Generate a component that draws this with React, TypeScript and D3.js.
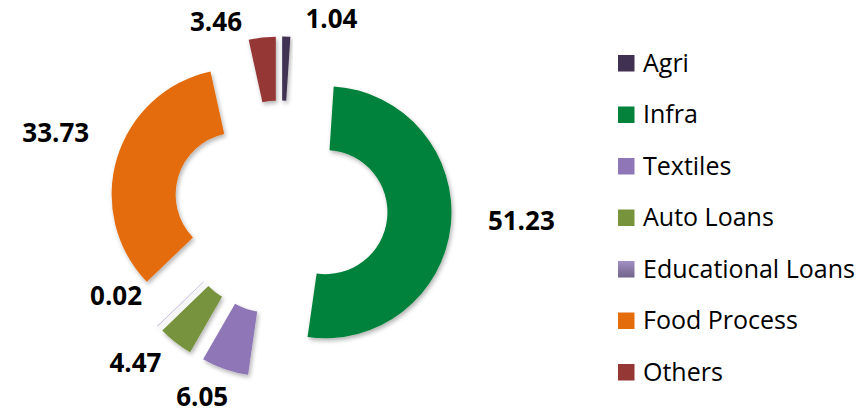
import React from "react";
import * as d3 from "d3";

const categories = ["Agri", "Infra", "Textiles", "Auto Loans", "Educational Loans", "Food Process", "Others"];
const values = [1.04, 51.23, 6.05, 4.47, 0.02, 33.73, 3.46];
const colors = ["#403152", "#04823c", "#8f77b7", "#77933c", "url(#eduGrad)", "#e46c0a", "#953735"];

// layout (not data)
const W = 862;
const H = 415;
const CX = 280.7;
const CY = 207.5;
const R_OUT = 126;
const R_IN = 62;
const EXPLODE = 45;
const labelAngleShift = [13.2, -2.8, 3.4, 5, 15.6, 1.5, -13];
const labelRadius = [195, 241, 205.5, 213, 187, 237, 196.5];

export default function App() {
  const pie = d3
    .pie<number>()
    .sort(null)
    .value((d) => d)
    .startAngle(0)
    .endAngle(2 * Math.PI);
  const arcs = pie(values);
  const arc = d3.arc<d3.PieArcDatum<number>>().innerRadius(R_IN).outerRadius(R_OUT);

  const legendY = d3.scaleLinear().domain([0, 1]).range([63.3, 114.8]);

  return (
    <svg
      width={W}
      height={H}
      style={{ position: "absolute", left: 0, top: 0, background: "#fff" }}
      fontFamily="'Open Sans', sans-serif"
    >
      <defs>
        <linearGradient id="eduGrad" x1="0" y1="0" x2="0" y2="1">
          <stop offset="0" stopColor="#a18fc4" />
          <stop offset="1" stopColor="#716488" />
        </linearGradient>
        <filter id="shadow" x="-20%" y="-20%" width="140%" height="140%">
          <feDropShadow dx="1.5" dy="2.5" stdDeviation="2" floodColor="#000" floodOpacity="0.3" />
        </filter>
      </defs>
      <g transform={`translate(${CX},${CY})`}>
        {arcs.map((a, i) => {
          const mid = (a.startAngle + a.endAngle) / 2;
          const dx = EXPLODE * Math.sin(mid);
          const dy = -EXPLODE * Math.cos(mid);
          return (
            <path
              key={categories[i]}
              d={arc(a) || ""}
              transform={`translate(${dx},${dy})`}
              fill={colors[i]}
              stroke={i === 4 ? "#cdc4dc" : "none"}
              strokeWidth={i === 4 ? 0.6 : 0}
              filter="url(#shadow)"
            />
          );
        })}
        {arcs.map((a, i) => {
          const mid = (a.startAngle + a.endAngle) / 2 + (labelAngleShift[i] * Math.PI) / 180;
          const x = labelRadius[i] * Math.sin(mid);
          const y = -labelRadius[i] * Math.cos(mid);
          return (
            <text
              key={"l" + i}
              x={x}
              y={y + 9}
              textAnchor="middle"
              fontWeight="bold"
              fontSize={26}
              fill="#000"
            >
              {values[i].toFixed(2)}
            </text>
          );
        })}
      </g>
      <g>
        {categories.map((c, i) => (
          <g key={"lg" + c} transform={`translate(618,${legendY(i)})`}>
            <rect x={0} y={-8.3} width={16.5} height={16.5} fill={colors[i]} />
            <text x={25} y={8.5} fontSize={25} fill="#000">
              {c}
            </text>
          </g>
        ))}
      </g>
    </svg>
  );
}
